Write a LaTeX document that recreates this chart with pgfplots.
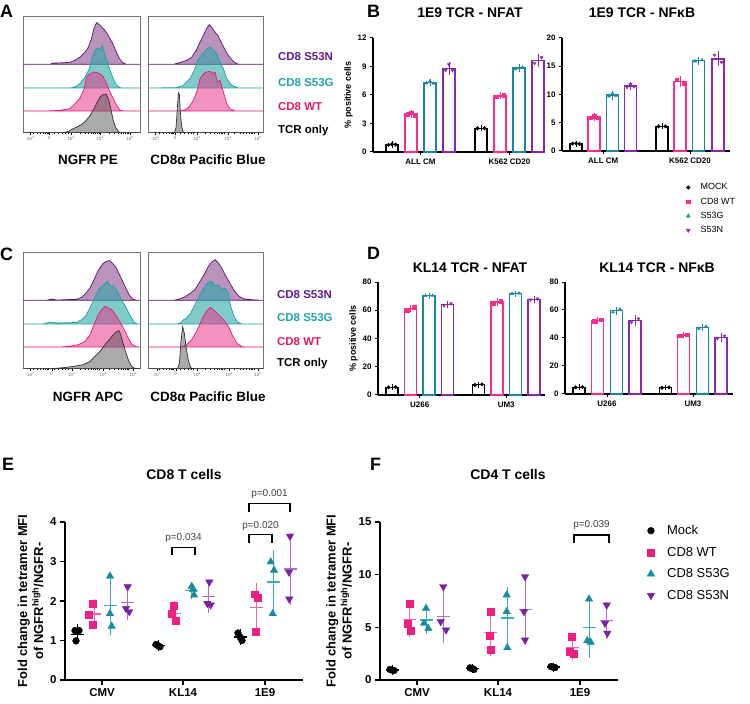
\documentclass[border=0pt]{standalone}
\usepackage{fontspec}
\setmainfont{Liberation Sans}
\usepackage{pgfplots}
\pgfplotsset{compat=1.18}

\newcommand{\fs}[1]{\fontsize{#1}{#1}\selectfont}

% histogram colours
\definecolor{hpurpL}{RGB}{92,20,100}
\definecolor{hpurpF}{RGB}{139,74,146}
\definecolor{htealL}{RGB}{26,160,160}
\definecolor{htealF}{RGB}{42,168,168}
\definecolor{hpinkL}{RGB}{232,21,122}
\definecolor{hpinkF}{RGB}{232,56,138}
\definecolor{hgrayL}{RGB}{50,50,50}
\definecolor{hgrayF}{RGB}{85,85,85}
% label colours
\definecolor{lpurp}{RGB}{94,26,142}
\definecolor{lteal}{RGB}{32,165,168}
\definecolor{lpink}{RGB}{224,24,108}
% bar / point colours
\definecolor{bpink}{RGB}{250,45,140}
\definecolor{bteal}{RGB}{25,135,160}
\definecolor{bpurp}{RGB}{135,40,175}
\definecolor{cpink}{RGB}{240,30,130}
\definecolor{cteal}{RGB}{22,140,160}
\definecolor{cpurp}{RGB}{122,31,166}
\definecolor{cpinkL}{RGB}{245,100,170}
\definecolor{ctealL}{RGB}{60,170,190}
\definecolor{cpurpL}{RGB}{170,110,200}

\tikzset{pv/.style={font=\fs{10}, text=black!75}}

\pgfplotsset{
  hist/.style={scale only axis, anchor=south west, height=116bp,
    ymin=0, ymax=116, xmin=0, ytick=\empty,
    axis line style={draw=black!55, line width=0.6bp},
    xtick pos=lower, tick align=outside,
    major tick length=2.5bp, minor tick length=1.5bp,
    every tick/.style={black, line width=0.4bp},
    minor xtick={10,14,17,20,22,23.5,24.5,31,35,39,42,44.5,56.4,61.5,65.2,68,70.3,72.2,73.9,75.4,85.7,91,94.8,97.7,100,102,103.8,105.3},
    xticklabel style={font=\fs{4.5}, text=black!60, inner sep=1bp}},
  hpurp/.style={draw=hpurpL, fill=hpurpF, fill opacity=0.6, line width=0.7bp},
  hteal/.style={draw=htealL, fill=htealF, fill opacity=0.6, line width=0.7bp},
  hpink/.style={draw=hpinkL, fill=hpinkF, fill opacity=0.55, line width=0.7bp},
  hgray/.style={draw=hgrayL, fill=hgrayF, fill opacity=0.5, line width=0.7bp},
  barax/.style={scale only axis, anchor=south west, xmin=0, ymin=0, clip=false,
    axis x line*=bottom, axis y line*=left,
    axis line style={line width=1.1bp},
    every tick/.style={black, line width=1bp},
    tick align=outside, major tick length=3bp,
    tick label style={font=\fs{8}\bfseries},
    /pgf/number format/assume math mode=true,
    ylabel style={font=\fs{9}\bfseries, yshift=-2bp}},
  barp/.style={ybar, bar shift=0pt, bar width=12bp, fill=white, draw=#1, line width=1.4bp,
    error bars/y dir=both, error bars/y explicit,
    error bars/error bar style={draw=#1, line width=0.7bp},
    error bars/error mark options={draw=#1, mark size=2.5bp, line width=0.7bp}},
  ptB/.style={only marks, color=#1, mark size=1.8bp},
  efax/.style={scale only axis, anchor=south west, width=238bp, height=158bp,
    xmin=0, xmax=238, ymin=0, clip=false,
    axis x line*=bottom, axis y line*=left,
    axis line style={line width=1.5bp},
    every tick/.style={black, line width=1.4bp},
    tick align=outside, major tick length=5bp,
    tick label style={font=\fs{11.5}\bfseries},
    /pgf/number format/assume math mode=true,
    xtick={37,118,200}, xticklabels={CMV,KL14,1E9},
    ylabel style={font=\fontsize{13}{16}\selectfont\bfseries, align=center}},
  errp/.style={only marks, mark=-, mark size=6.5bp, color=#1,
    mark options={line width=1.3bp},
    error bars/y dir=both, error bars/y explicit,
    error bars/error bar style={draw=#1, line width=1bp},
    error bars/error mark options={draw=#1, mark size=4bp, line width=1bp}},
  ptE/.style={only marks, color=#1, mark size=3.4bp},
  brk/.style={black, line width=1.1bp, mark=none}
}

\begin{document}
\begin{tikzpicture}
\useasboundingbox (0,0) rectangle (750bp,704bp);

% ---------------- panel A ----------------
\begin{axis}[hist, at={(23.3bp,571.3bp)}, width=116.7bp, xmax=116.7,
  xtick={6.7,25.7,47.7,76.7,106.7},
  xticklabels={-10\textsuperscript{3},0,10\textsuperscript{3},10\textsuperscript{4},10\textsuperscript{5}}]
\addplot[hpurp] table[row sep=\\, y expr=\thisrowno{1}+68.4]{u h\\ 0 0\\ 26.7 0\\ 30 1.3\\ 40 1.5\\ 46.7 2\\ 51.7 4\\ 56.7 7.3\\ 61.7 12\\ 65 17\\ 68.3 26\\ 70.7 36\\ 73.3 41.7\\ 75.7 40\\ 78.3 37.3\\ 80.7 35\\ 83.3 31.7\\ 86 27\\ 89.3 21\\ 92.7 13\\ 96 6\\ 99.3 1.5\\ 103.3 0\\ 116.7 0\\} -- cycle;
\addplot[hteal] table[row sep=\\, y expr=\thisrowno{1}+44.7]{u h\\ 0 0\\ 46.7 0\\ 51.7 1\\ 56.7 4.3\\ 61.7 11\\ 66 19\\ 69 31\\ 71.7 37.7\\ 74 40\\ 76.7 38.7\\ 79.3 41.7\\ 81.7 32.7\\ 84 26\\ 86.7 17.7\\ 90 9.3\\ 93.3 2.7\\ 96.7 0.3\\ 100 0\\ 116.7 0\\} -- cycle;
\addplot[hpink] table[row sep=\\, y expr=\thisrowno{1}+21.7]{u h\\ 0 0\\ 23.3 0\\ 36.7 0.7\\ 46.7 2.3\\ 51.7 7.3\\ 56.7 13\\ 60.7 22\\ 63.3 34\\ 66.7 37.3\\ 71.7 39\\ 76.7 37.3\\ 80 34\\ 83.3 27.3\\ 86.7 19\\ 90 12.3\\ 93.3 5.7\\ 96.7 0.7\\ 100 0\\ 116.7 0\\} -- cycle;
\addplot[hgray] table[row sep=\\, y expr=\thisrowno{1}+0]{u h\\ 0 0\\ 40 0\\ 45 1.3\\ 50 4\\ 56.7 7.3\\ 61.7 11\\ 66.7 17\\ 70.7 24\\ 74 30.7\\ 76.7 35.7\\ 80 38.3\\ 82.7 38.7\\ 85 34\\ 87.3 25\\ 90 12\\ 92.7 4.7\\ 96 0.3\\ 100 0\\ 116.7 0\\} -- cycle;
\end{axis}

\begin{axis}[hist, at={(148.7bp,571.3bp)}, width=114.3bp, xmax=114.3,
  xtick={6.3,26.3,48.3,79.3,109.3},
  xticklabels={-10\textsuperscript{3},0,10\textsuperscript{3},10\textsuperscript{4},10\textsuperscript{5}}]
\addplot[hpurp] table[row sep=\\, y expr=\thisrowno{1}+68.4]{u h\\ 0 0\\ 24.7 0\\ 29.7 1.3\\ 38 4\\ 43 7\\ 47.3 13.7\\ 51.3 22\\ 54.7 29\\ 58 36\\ 60.7 39.7\\ 63 37\\ 66.3 32.3\\ 69.7 28\\ 73 21\\ 76.3 14.7\\ 79.7 8.7\\ 84.7 2.7\\ 89.7 0\\ 114.3 0\\} -- cycle;
\addplot[hteal] table[row sep=\\, y expr=\thisrowno{1}+44.7]{u h\\ 0 0\\ 28 0.3\\ 34.7 2.7\\ 41.3 9.3\\ 46.3 19.3\\ 49.7 29.3\\ 54 34\\ 58 38.7\\ 61.3 41\\ 64.7 37.7\\ 68 34.3\\ 71.3 26\\ 74.7 19.3\\ 78 9.3\\ 83 2.7\\ 89.7 0\\ 114.3 0\\} -- cycle;
\addplot[hpink] table[row sep=\\, y expr=\thisrowno{1}+21.7]{u h\\ 0 0\\ 31.3 0\\ 36.3 1\\ 40.3 4\\ 44.7 10.7\\ 48 19\\ 51.3 32.3\\ 54.7 37.3\\ 58 39\\ 61.3 39.7\\ 64 37.3\\ 66.3 39\\ 68.7 29\\ 71.3 30.7\\ 74.7 19\\ 78 7.3\\ 81.3 2.3\\ 86.3 0\\ 114.3 0\\} -- cycle;
\addplot[hgray] table[row sep=\\, y expr=\thisrowno{1}+0]{u h\\ 0 0\\ 25.7 0\\ 27.3 5\\ 28.7 25\\ 29.7 40\\ 30.7 38\\ 31.7 20\\ 33 6\\ 34.7 0.5\\ 36 0\\ 114.3 0\\} -- cycle;
\end{axis}

% ---------------- panel C ----------------
\begin{axis}[hist, at={(23.3bp,335.3bp)}, width=116.7bp, xmax=116.7,
  xtick={6.7,28.4,48.4,80,110},
  xticklabels={-10\textsuperscript{3},0,10\textsuperscript{3},10\textsuperscript{4},10\textsuperscript{5}}]
\addplot[hpurp] table[row sep=\\, y expr=\thisrowno{1}+68.4]{u h\\ 0 0\\ 23.3 0\\ 28.3 1.3\\ 33.3 0.3\\ 53.3 1\\ 58.3 3\\ 62.3 6.7\\ 66.7 12.3\\ 70.7 20.7\\ 75 30\\ 79.3 36.3\\ 82.7 38.7\\ 86 39.7\\ 89.3 37\\ 92.7 33\\ 96 26\\ 99.3 19\\ 102.7 11.7\\ 106 5.3\\ 109.3 1.3\\ 113.3 0\\ 116.7 0\\} -- cycle;
\addplot[hteal] table[row sep=\\, y expr=\thisrowno{1}+44.7]{u h\\ 0 0\\ 20 0\\ 26.7 2\\ 33.3 1\\ 53.3 1.5\\ 58.3 4.3\\ 62.3 8\\ 65.7 14.3\\ 69 21\\ 72.7 29.3\\ 76.7 36\\ 80.7 39\\ 84 42.7\\ 87.3 38\\ 90.7 37.7\\ 94 32.7\\ 97.3 26\\ 100.7 20\\ 104 14\\ 107.3 7.7\\ 110.7 2\\ 114 0\\ 116.7 0\\} -- cycle;
\addplot[hpink] table[row sep=\\, y expr=\thisrowno{1}+21.7]{u h\\ 0 0\\ 36.7 0\\ 46.7 0.7\\ 55 2.3\\ 61.7 5.7\\ 66.7 12.3\\ 70.7 22.3\\ 75 32.3\\ 78.3 37.3\\ 81.7 40.7\\ 85 39\\ 88.3 37.3\\ 93.3 30.7\\ 98.3 22.3\\ 101.7 15.7\\ 105 9\\ 108.3 3\\ 112.7 0.3\\ 116.7 0\\} -- cycle;
\addplot[hgray] table[row sep=\\, y expr=\thisrowno{1}+0]{u h\\ 0 0\\ 26.7 0\\ 40 1\\ 50 2.3\\ 60 4\\ 66.7 7.3\\ 71.7 12.3\\ 76.7 17.3\\ 81.7 24\\ 86 29\\ 90 34\\ 93.3 37.3\\ 96 38\\ 98.3 30.7\\ 101.7 19\\ 105 9\\ 108.3 2.3\\ 111.7 0.3\\ 116.7 0\\} -- cycle;
\end{axis}

\begin{axis}[hist, at={(148.7bp,335.3bp)}, width=114.3bp, xmax=114.3,
  xtick={8,27,48.6,80.6,109.3},
  xticklabels={-10\textsuperscript{3},0,10\textsuperscript{3},10\textsuperscript{4},10\textsuperscript{5}}]
\addplot[hpurp] table[row sep=\\, y expr=\thisrowno{1}+68.4]{u h\\ 0 0\\ 24.7 0\\ 29.7 1\\ 35.3 3\\ 41.3 6.7\\ 46.3 10.7\\ 51.3 19\\ 56.3 27.3\\ 59.7 34\\ 63 38.3\\ 66.3 40.7\\ 69.7 37.3\\ 73 32.3\\ 76.3 25.7\\ 80.7 18\\ 85.3 10\\ 90.3 4\\ 95.3 1.3\\ 104.7 0.5\\ 113 0\\ 114.3 0\\} -- cycle;
\addplot[hteal] table[row sep=\\, y expr=\thisrowno{1}+44.7]{u h\\ 0 0\\ 28 0\\ 32 1\\ 34.7 4.3\\ 38 6\\ 42 11\\ 46.3 19.3\\ 51.3 29.3\\ 56.3 37.7\\ 59.7 41\\ 63 42.7\\ 66.3 37.7\\ 69.7 39.3\\ 73 34.3\\ 76.3 36\\ 79.7 31\\ 82 17.7\\ 85.3 7.7\\ 88.7 2\\ 93 0\\ 114.3 0\\} -- cycle;
\addplot[hpink] table[row sep=\\, y expr=\thisrowno{1}+21.7]{u h\\ 0 0\\ 33 0\\ 38 2.3\\ 43 7.3\\ 48 15.7\\ 53 27.3\\ 57.3 35\\ 61.3 39.7\\ 64.7 37.3\\ 69.7 32.3\\ 74.7 27.3\\ 79.7 20.7\\ 84 11\\ 88 4\\ 93 0.3\\ 98 0\\ 114.3 0\\} -- cycle;
\addplot[hgray] table[row sep=\\, y expr=\thisrowno{1}+0]{u h\\ 0 0\\ 28.7 0\\ 30.7 5\\ 32.3 28\\ 34 42\\ 35.7 35\\ 37.3 22\\ 39.7 8\\ 42 1\\ 44.7 0\\ 114.3 0\\} -- cycle;
\end{axis}

% ---------------- panel B ----------------
\begin{axis}[barax, at={(373bp,552bp)}, width=172bp, height=114bp, xmax=172, ymax=12,
  ytick={0,3,6,9,12}, xtick={47.5,136.5}, xticklabels={ALL CM,K562 CD20},
  ylabel={\% positive cells}]
\addplot[barp=black] coordinates {(19,0.8) +- (0,0.07) (108,2.5) +- (0,0.05)};
\addplot[barp=bpink] coordinates {(38,4.0) +- (0,0.15) (127,5.9) +- (0,0.1)};
\addplot[barp=bteal] coordinates {(57,7.3) +- (0,0.12) (146,8.85) +- (0,0.15)};
\addplot[barp=bpurp] coordinates {(76,8.8) +- (0,0.45) (165,9.65) +- (0,0.45)};
\addplot[ptB=black, mark=*] coordinates {(15.5,0.75) (19,0.82) (22.5,0.78) (104.5,2.5) (111.5,2.5)};
\addplot[ptB=bpink, mark=square*] coordinates {(34.5,3.95) (38,4.15) (41.5,3.9) (123.5,5.8) (130.5,5.95)};
\addplot[ptB=bteal, mark=triangle*] coordinates {(53.5,7.25) (57,7.45) (60.5,7.2) (142.5,8.75) (149.5,8.9)};
\addplot[ptB=bpurp, mark=triangle*, mark options={rotate=180}] coordinates {(72.5,8.6) (76,9.2) (79.5,8.6) (161.5,9.35) (168.5,9.95)};
\end{axis}

\begin{axis}[barax, at={(562bp,553bp)}, width=168bp, height=113bp, xmax=168, ymax=20,
  ytick={0,5,10,15,20}, xtick={41.25,128}, xticklabels={ALL CM,K562 CD20},
  legend style={at={(axis description cs:0.739,-0.274)}, anchor=north west,
    draw=none, fill=none, font=\fs{9}, row sep=3.5bp, inner sep=0pt,
    nodes={inner sep=1.5bp},
    /tikz/every odd column/.append style={column sep=9bp}},
  legend cell align=left,
  legend entries={MOCK,CD8 WT,S53G,S53N}]
\addlegendimage{only marks, mark=*, mark size=1.8bp, black}
\addlegendimage{only marks, mark=square*, mark size=1.8bp, bpink}
\addlegendimage{only marks, mark=triangle*, mark size=2.2bp, bteal}
\addlegendimage{only marks, mark=triangle*, mark size=2.2bp, mark options={rotate=180}, bpurp}
\addplot[barp=black] coordinates {(14,1.3) +- (0,0.1) (100,4.35) +- (0,0.1)};
\addplot[barp=bpink] coordinates {(32,6.0) +- (0,0.3) (118,12.3) +- (0,0.5)};
\addplot[barp=bteal] coordinates {(50.5,9.9) +- (0,0.35) (136.5,16.0) +- (0,0.25)};
\addplot[barp=bpurp] coordinates {(68.5,11.5) +- (0,0.3) (156,16.3) +- (0,0.9)};
\addplot[ptB=black, mark=*] coordinates {(10.5,1.3) (14,1.35) (17.5,1.25) (96.5,4.35) (103.5,4.35)};
\addplot[ptB=bpink, mark=square*] coordinates {(28.5,5.9) (32,6.2) (35.5,5.9) (114.5,12.6) (121.5,12.0)};
\addplot[ptB=bteal, mark=triangle*] coordinates {(47,9.7) (50.5,10.2) (54,9.8) (133,15.9) (140,16.1)};
\addplot[ptB=bpurp, mark=triangle*, mark options={rotate=180}] coordinates {(65,11.3) (68.5,11.8) (72,11.4) (152.5,17.0) (159.5,15.7)};
\end{axis}

% ---------------- panel D ----------------
\begin{axis}[barax, at={(378bp,309bp)}, width=167bp, height=113bp, xmax=167, ymax=80,
  ytick={0,20,40,60,80}, xtick={41.75,128.25}, xticklabels={U266,UM3},
  ylabel={\% positive cells}]
\addplot[barp=black] coordinates {(14,5.5) +- (0,0.3) (100.5,7.3) +- (0,0.3)};
\addplot[barp=bpink] coordinates {(32.5,61.2) +- (0,1.0) (119,65.8) +- (0,0.8)};
\addplot[barp=bteal] coordinates {(51,70.3) +- (0,0.3) (137.5,71.8) +- (0,0.3)};
\addplot[barp=bpurp] coordinates {(69.5,64) +- (0,0.8) (156,67.8) +- (0,0.6)};
\addplot[ptB=black, mark=*] coordinates {(10.5,5.4) (17.5,5.6) (97,7.1) (104,7.5)};
\addplot[ptB=bpink, mark=square*] coordinates {(29,60.2) (36,62.2) (115.5,65) (122.5,66.6)};
\addplot[ptB=bteal, mark=triangle*] coordinates {(47.5,70.2) (54.5,70.4) (134,71.6) (141,72)};
\addplot[ptB=bpurp, mark=triangle*, mark options={rotate=180}] coordinates {(66,63.3) (73,64.7) (152.5,67.5) (159.5,68.2)};
\end{axis}

\begin{axis}[barax, at={(565bp,310bp)}, width=168bp, height=112bp, xmax=168, ymax=80,
  ytick={0,20,40,60,80}, xtick={42,128}, xticklabels={U266,UM3}]
\addplot[barp=black] coordinates {(14,4.8) +- (0,0.3) (100.5,4.6) +- (0,0.3)};
\addplot[barp=bpink] coordinates {(32.5,52.5) +- (0,0.8) (118.5,42) +- (0,0.5)};
\addplot[barp=bteal] coordinates {(51.5,59.5) +- (0,1.2) (137.5,47.5) +- (0,0.9)};
\addplot[barp=bpurp] coordinates {(70,52.5) +- (0,1.8) (156,40.5) +- (0,1.3)};
\addplot[ptB=black, mark=*] coordinates {(10.5,4.7) (17.5,4.9) (97,4.5) (104,4.7)};
\addplot[ptB=bpink, mark=square*] coordinates {(29,52) (36,53) (115,41.7) (122,42.3)};
\addplot[ptB=bteal, mark=triangle*] coordinates {(48,58.5) (55,60.5) (134,46.8) (141,48.2)};
\addplot[ptB=bpurp, mark=triangle*, mark options={rotate=180}] coordinates {(66.5,51.3) (73.5,53.8) (152.5,39.7) (159.5,41.5)};
\end{axis}

% ---------------- panel E ----------------
\begin{axis}[efax, at={(65bp,24bp)}, ymax=4, ytick={0,1,2,3,4},
  ylabel={Fold change in tetramer MFI\\of NGFR\textsuperscript{high}/NGFR-}]
\addplot[errp=black] coordinates {(12,1.16) +- (0,0.15) (93,0.87) +- (0,0.03) (175,1.09) +- (0,0.1)};
\addplot[errp=cpinkL] coordinates {(29,1.67) +- (0,0.27) (109,1.69) +- (0,0.2) (191,1.83) +- (0,0.53)};
\addplot[errp=ctealL] coordinates {(45,1.89) +- (0,0.66) (126.5,2.27) +- (0,0.11) (208,2.48) +- (0,0.7)};
\addplot[errp=cpurpL] coordinates {(62,1.97) +- (0,0.34) (143,2.11) +- (0,0.32) (225,2.81) +- (0,0.8)};
\addplot[ptE=black, mark=*] coordinates {(10,1.25) (14,1.25) (11,0.99) (91,0.9) (93,0.87) (95,0.84) (173,1.19) (175,1.09) (177,1.0)};
\addplot[ptE=cpink, mark=square*] coordinates {(28,1.94) (24,1.65) (28,1.41) (109,1.89) (106.7,1.67) (110.7,1.5) (190,2.17) (192.7,2.09) (191,1.22)};
\addplot[ptE=cteal, mark=triangle*, mark size=4.3bp] coordinates {(45,2.63) (45,1.68) (46.7,1.36) (126.7,2.37) (128.3,2.3) (129,2.15) (205.7,2.99) (209,2.78) (207.7,1.68)};
\addplot[ptE=cpurp, mark=triangle*, mark size=4.3bp, mark options={rotate=180}] coordinates {(62.7,2.36) (61,1.81) (64.3,1.73) (144.3,2.48) (142.3,1.94) (145.7,1.9) (225,3.64) (224,2.73) (224.3,2.05)};
\addplot[brk] coordinates {(107,3.16) (107,3.35) (130,3.35) (130,3.16)};
\addplot[brk] coordinates {(184,3.46) (184,3.68) (207,3.68) (207,3.46)};
\addplot[brk] coordinates {(184,4.25) (184,4.46) (225,4.46) (225,4.25)};
\node[pv] at (axis cs:118.5,3.6) {p=0.034};
\node[pv] at (axis cs:195.5,3.9) {p=0.020};
\node[pv] at (axis cs:204.5,4.72) {p=0.001};
\end{axis}

% ---------------- panel F ----------------
\begin{axis}[efax, at={(380bp,24bp)}, ymax=15, ytick={0,5,10,15},
  ylabel={Fold change in tetramer MFI\\of NGFR\textsuperscript{high}/NGFR-},
  legend style={at={(axis description cs:1.122,0.99)}, anchor=north west,
    draw=none, fill=none, font=\fs{13}, row sep=8bp, inner sep=0pt,
    nodes={inner sep=1.5bp},
    /tikz/every odd column/.append style={column sep=11bp}},
  legend cell align=left,
  legend entries={Mock,CD8 WT,CD8 S53G,CD8 S53N}]
\addlegendimage{only marks, mark=*, mark size=3.4bp, black}
\addlegendimage{only marks, mark=square*, mark size=3.4bp, cpink}
\addlegendimage{only marks, mark=triangle*, mark size=4.3bp, cteal}
\addlegendimage{only marks, mark=triangle*, mark size=4.3bp, mark options={rotate=180}, cpurp}
\addplot[errp=black] coordinates {(12,0.95) +- (0,0.05) (92,1.08) +- (0,0.07) (173,1.22) +- (0,0.04)};
\addplot[errp=cpinkL] coordinates {(29,5.77) +- (0,1.35) (110,4.5) +- (0,1.84) (192,3.11) +- (0,0.87)};
\addplot[errp=ctealL] coordinates {(46,5.69) +- (0,0.99) (127,5.88) +- (0,2.56) (209,5.0) +- (0,2.5)};
\addplot[errp=cpurpL] coordinates {(63,6.05) +- (0,2.17) (145,6.7) +- (0,3.0) (226,5.64) +- (0,1.36)};
\addplot[ptE=black, mark=*] coordinates {(10,1.0) (12,0.95) (14,0.9) (90,1.15) (92,1.1) (94,1.0) (171,1.27) (173,1.22) (175,1.18)};
\addplot[ptE=cpink, mark=square*] coordinates {(29.3,7.28) (27.3,5.38) (30.7,4.65) (110.7,6.49) (109.3,4.18) (110.7,2.85) (191.3,4.11) (190,2.69) (194,2.53)};
\addplot[ptE=cteal, mark=triangle*, mark size=4.3bp] coordinates {(46,6.8) (44,5.38) (48.3,4.9) (126.7,8.07) (126.7,6.49) (127.3,3.07) (209,7.69) (207.3,3.73) (210.7,3.58)};
\addplot[ptE=cpurp, mark=triangle*, mark size=4.3bp, mark options={rotate=180}] coordinates {(63.3,8.86) (60.7,5.54) (66,4.75) (145,9.81) (144,6.49) (145,3.8) (226.7,7.12) (225,5.38) (227.3,4.43)};
\addplot[brk] coordinates {(194,13.04) (194,13.77) (229,13.77) (229,13.04)};
\node[pv] at (axis cs:211.5,14.7) {p=0.039};
\end{axis}

% ---------------- text outside the axes ----------------
\begin{scope}[every node/.style={inner sep=0pt}]
\node[anchor=north west, font=\fs{18}\bfseries] at (0bp,699bp) {A};
\node[anchor=north west, font=\fs{18}\bfseries] at (367bp,699bp) {B};
\node[anchor=north west, font=\fs{18}\bfseries] at (0bp,456bp) {C};
\node[anchor=north west, font=\fs{18}\bfseries] at (367bp,457bp) {D};
\node[anchor=north west, font=\fs{18}\bfseries] at (2bp,246bp) {E};
\node[anchor=north west, font=\fs{18}\bfseries] at (370bp,246bp) {F};

\node[font=\fs{13.5}\bfseries] at (88bp,544bp) {NGFR PE};
\node[font=\fs{13.5}\bfseries] at (208bp,544bp) {CD8α Pacific Blue};
\node[font=\fs{13.5}\bfseries] at (88bp,307bp) {NGFR APC};
\node[font=\fs{13.5}\bfseries] at (208bp,307bp) {CD8α Pacific Blue};

\node[anchor=west, font=\fs{11.5}\bfseries, text=lpurp] at (278bp,647bp) {CD8 S53N};
\node[anchor=west, font=\fs{11.5}\bfseries, text=lteal] at (278bp,621bp) {CD8 S53G};
\node[anchor=west, font=\fs{11.5}\bfseries, text=lpink] at (278bp,597bp) {CD8 WT};
\node[anchor=west, font=\fs{11.5}\bfseries] at (278bp,573bp) {TCR only};
\node[anchor=west, font=\fs{11.5}\bfseries, text=lpurp] at (277bp,409bp) {CD8 S53N};
\node[anchor=west, font=\fs{11.5}\bfseries, text=lteal] at (277bp,386bp) {CD8 S53G};
\node[anchor=west, font=\fs{11.5}\bfseries, text=lpink] at (277bp,362bp) {CD8 WT};
\node[anchor=west, font=\fs{11.5}\bfseries] at (277bp,340bp) {TCR only};

\node[font=\fs{14}\bfseries] at (470bp,691bp) {1E9 TCR - NFAT};
\node[font=\fs{14}\bfseries] at (642bp,691bp) {1E9 TCR - NFκB};
\node[font=\fs{14}\bfseries] at (470bp,436bp) {KL14 TCR - NFAT};
\node[font=\fs{14}\bfseries] at (657bp,436bp) {KL14 TCR - NFκB};
\node[font=\fs{14}\bfseries] at (184bp,229bp) {CD8 T cells};
\node[font=\fs{14}\bfseries] at (508bp,229bp) {CD4 T cells};
\end{scope}
\end{tikzpicture}
\end{document}
